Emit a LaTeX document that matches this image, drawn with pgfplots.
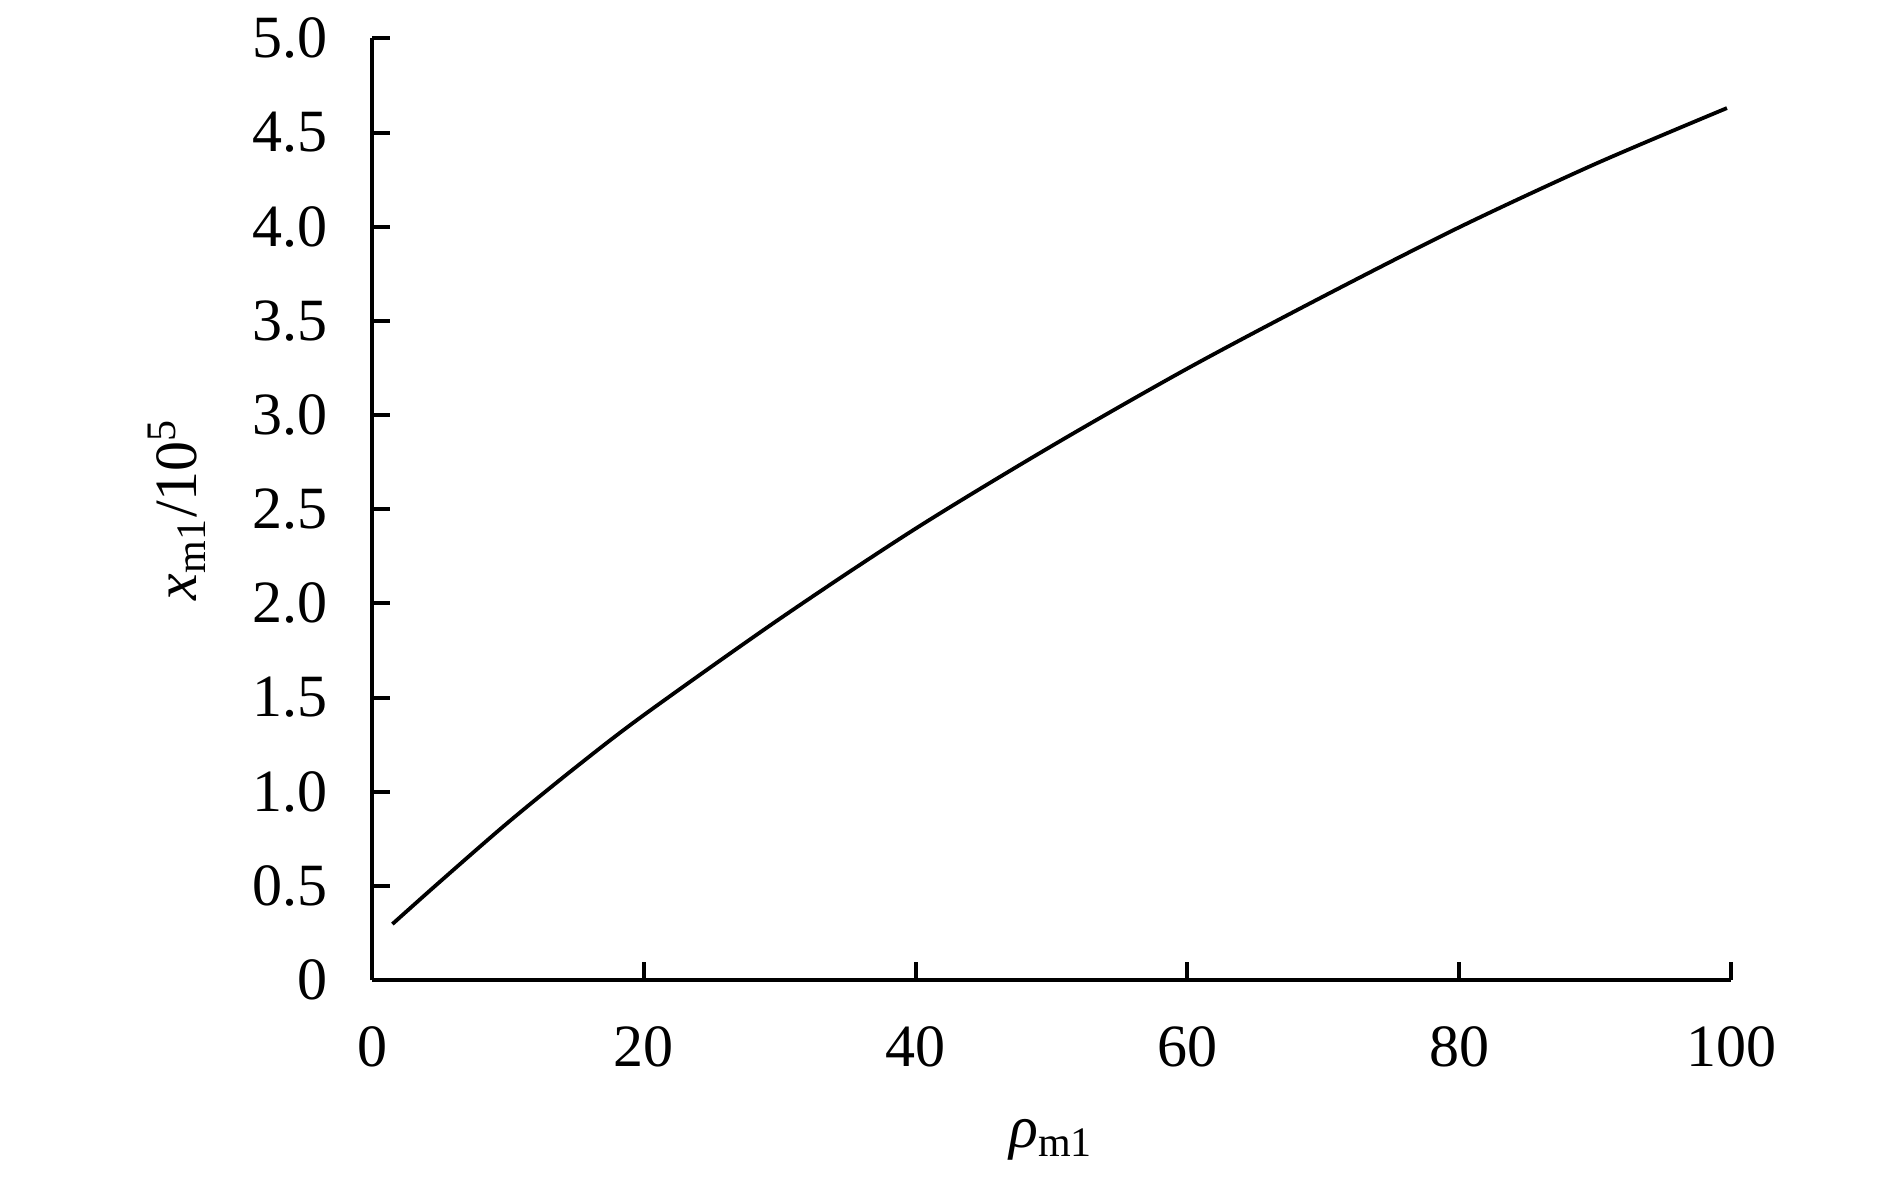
\documentclass[border=0pt]{standalone}
\usepackage{fontspec}
\setmainfont{Liberation Serif}
\usepackage{pgfplots}
\pgfplotsset{compat=1.18}
\begin{document}
\begin{tikzpicture}[font=\fontsize{15}{18}\selectfont]
\path[use as bounding box] (-93pt,-52pt) rectangle (379.5pt,245pt);
\begin{axis}[
  at={(0,0)}, anchor=south west,
  scale only axis, width=339.75pt, height=235.4pt,
  xmin=0, xmax=100, ymin=0, ymax=5,
  axis lines=left, axis line style={-, line width=1pt},
  tick align=inside, major tick length=4.5pt,
  tick style={line width=1pt, black},
  xtick={0,20,40,60,80,100},
  ytick={0,0.5,1,1.5,2,2.5,3,3.5,4,4.5,5},
  yticklabels={0,0.5,1.0,1.5,2.0,2.5,3.0,3.5,4.0,4.5,5.0},
  /pgf/number format/assume math mode=true,
  tick label style={font=\fontsize{15}{18}\selectfont},
  xticklabel style={yshift=-8pt},
  yticklabel style={xshift=-7.5pt},
  label style={font=\fontsize{15}{18}\selectfont},
  xlabel={{\itshape ρ}\textsubscript{m1}},
  ylabel={{\itshape x}\textsubscript{m1}/10\textsuperscript{5}},
  xlabel style={at={(axis description cs:0.5,-0.17)}, anchor=center},
  ylabel style={at={(axis description cs:-0.1435,0.5)}, anchor=center},
]
\addplot[black, line width=0.95pt, smooth] coordinates {
(1.5,0.297) (5,0.522) (10,0.836) (15,1.13) (20,1.407) (30,1.918)
(40,2.397) (50,2.835) (60,3.247) (70,3.63) (80,3.997) (90,4.333) (99.7,4.63)
};
\end{axis}
\end{tikzpicture}
\end{document}
